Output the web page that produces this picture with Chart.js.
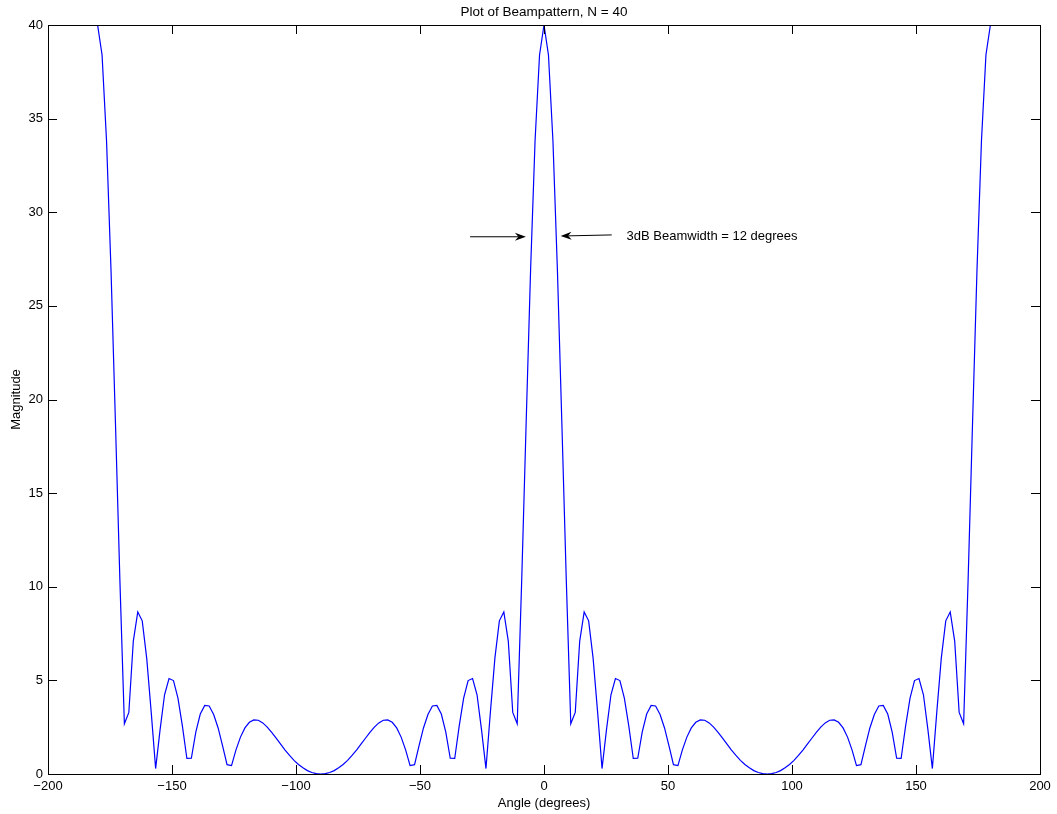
<!DOCTYPE html>
<html>
<head>
<meta charset="utf-8">
<script src="https://cdn.jsdelivr.net/npm/chart.js@4.4.1/dist/chart.umd.min.js"></script>
<style>
  html, body { margin: 0; padding: 0; background: #fff; }
  #wrap { width: 1057px; height: 814px; }
</style>
</head>
<body>
<div id="wrap"><canvas id="beamChart"></canvas></div>
<script>
// angle samples (degrees)
const angles = [
  -180, -178.2, -176.4, -174.6, -172.8, -171, -169.2, -167.4, -165.6, -163.8,
  -162, -160.2, -158.4, -156.6, -154.8, -153, -151.2, -149.4, -147.6, -145.8,
  -144, -142.2, -140.4, -138.6, -136.8, -135, -133.2, -131.4, -129.6, -127.8,
  -126, -124.2, -122.4, -120.6, -118.8, -117, -115.2, -113.4, -111.6, -109.8,
  -108, -106.2, -104.4, -102.6, -100.8, -99, -97.2, -95.4, -93.6, -91.8,
  -90, -88.2, -86.4, -84.6, -82.8, -81, -79.2, -77.4, -75.6, -73.8,
  -72, -70.2, -68.4, -66.6, -64.8, -63, -61.2, -59.4, -57.6, -55.8,
  -54, -52.2, -50.4, -48.6, -46.8, -45, -43.2, -41.4, -39.6, -37.8,
  -36, -34.2, -32.4, -30.6, -28.8, -27, -25.2, -23.4, -21.6, -19.8,
  -18, -16.2, -14.4, -12.6, -10.8, -9, -7.2, -5.4, -3.6, -1.8,
  0,
  1.8, 3.6, 5.4, 7.2, 9, 10.8, 12.6, 14.4, 16.2, 18,
  19.8, 21.6, 23.4, 25.2, 27, 28.8, 30.6, 32.4, 34.2, 36,
  37.8, 39.6, 41.4, 43.2, 45, 46.8, 48.6, 50.4, 52.2, 54,
  55.8, 57.6, 59.4, 61.2, 63, 64.8, 66.6, 68.4, 70.2, 72,
  73.8, 75.6, 77.4, 79.2, 81, 82.8, 84.6, 86.4, 88.2, 90,
  91.8, 93.6, 95.4, 97.2, 99, 100.8, 102.6, 104.4, 106.2, 108,
  109.8, 111.6, 113.4, 115.2, 117, 118.8, 120.6, 122.4, 124.2, 126,
  127.8, 129.6, 131.4, 133.2, 135, 136.8, 138.6, 140.4, 142.2, 144,
  145.8, 147.6, 149.4, 151.2, 153, 154.8, 156.6, 158.4, 160.2, 162,
  163.8, 165.6, 167.4, 169.2, 171, 172.8, 174.6, 176.4, 178.2, 180
];

// beampattern magnitude at each angle
const magnitude = [
  40, 38.40, 33.83, 26.95, 18.74, 10.30, 2.68, 3.29, 7.10, 8.65,
  8.18, 6.19, 3.33, 0.29, 2.37, 4.23, 5.10, 4.99, 4.05, 2.56,
  0.83, 0.84, 2.24, 3.20, 3.66, 3.63, 3.18, 2.46, 1.50, 0.50,
  0.45, 1.29, 1.97, 2.46, 2.76, 2.89, 2.87, 2.73, 2.50, 2.22,
  1.91, 1.59, 1.28, 0.99, 0.73, 0.51, 0.33, 0.18, 0.08, 0.02,
  0,
  0.02, 0.08, 0.18, 0.33, 0.51, 0.73, 0.99, 1.28, 1.59, 1.91,
  2.22, 2.50, 2.73, 2.87, 2.89, 2.76, 2.46, 1.97, 1.29, 0.45,
  0.50, 1.50, 2.46, 3.18, 3.63, 3.66, 3.20, 2.24, 0.84, 0.83,
  2.56, 4.05, 4.99, 5.10, 4.23, 2.37, 0.29, 3.33, 6.19, 8.18,
  8.65, 7.10, 3.29, 2.68, 10.30, 18.74, 26.95, 33.83, 38.40, 40,
  38.40, 33.83, 26.95, 18.74, 10.30, 2.68, 3.29, 7.10, 8.65, 8.18,
  6.19, 3.33, 0.29, 2.37, 4.23, 5.10, 4.99, 4.05, 2.56, 0.83,
  0.84, 2.24, 3.20, 3.66, 3.63, 3.18, 2.46, 1.50, 0.50, 0.45,
  1.29, 1.97, 2.46, 2.76, 2.89, 2.87, 2.73, 2.50, 2.22, 1.91,
  1.59, 1.28, 0.99, 0.73, 0.51, 0.33, 0.18, 0.08, 0.02, 0,
  0.02, 0.08, 0.18, 0.33, 0.51, 0.73, 0.99, 1.28, 1.59, 1.91,
  2.22, 2.50, 2.73, 2.87, 2.89, 2.76, 2.46, 1.97, 1.29, 0.45,
  0.50, 1.50, 2.46, 3.18, 3.63, 3.66, 3.20, 2.24, 0.84, 0.83,
  2.56, 4.05, 4.99, 5.10, 4.23, 2.37, 0.29, 3.33, 6.19, 8.18,
  8.65, 7.10, 3.29, 2.68, 10.30, 18.74, 26.95, 33.83, 38.40, 40
];

// axis ticks
const xTicks = [-200, -150, -100, -50, 0, 50, 100, 150, 200];
const yTicks = [0, 5, 10, 15, 20, 25, 30, 35, 40];

// annotation (data coords)
const arrowLeft = { from: [-29.8, 28.69], to: [-7.3, 28.69] };
const arrowRight = { from: [27.3, 28.79], to: [6.7, 28.73] };
const noteText = "3dB Beamwidth = 12 degrees";
const notePos = [33.3, 28.73];
const titleText = "Plot of Beampattern, N = 40";

const FONT = "'Liberation Sans', Arial, Helvetica, sans-serif";
Chart.defaults.font.family = FONT;
Chart.defaults.color = "#000";

const points = angles.map((a, i) => ({ x: a, y: magnitude[i] }));

// MATLAB-ish box with inward ticks, title + annotation arrows
const boxPlugin = {
  id: "box",
  afterDatasetsDraw(chart) {
    const { ctx, chartArea: ca, scales } = chart;
    const xs = scales.x, ys = scales.y;
    ctx.save();
    ctx.strokeStyle = "#000";
    ctx.lineWidth = 1;
    ctx.strokeRect(Math.round(ca.left) + 0.5, Math.round(ca.top) + 0.5,
      Math.round(ca.right - ca.left), Math.round(ca.bottom - ca.top));
    const tl = 9;
    ctx.beginPath();
    xTicks.forEach((v) => {
      const px = Math.round(xs.getPixelForValue(v)) + 0.5;
      ctx.moveTo(px, ca.bottom); ctx.lineTo(px, ca.bottom - tl);
      ctx.moveTo(px, ca.top); ctx.lineTo(px, ca.top + tl);
    });
    yTicks.forEach((v) => {
      const py = Math.round(ys.getPixelForValue(v)) + 0.5;
      ctx.moveTo(ca.left, py); ctx.lineTo(ca.left + tl, py);
      ctx.moveTo(ca.right, py); ctx.lineTo(ca.right - tl, py);
    });
    ctx.stroke();

    // arrows
    [arrowLeft, arrowRight].forEach((ar) => {
      const x1 = xs.getPixelForValue(ar.from[0]), y1 = ys.getPixelForValue(ar.from[1]);
      const x2 = xs.getPixelForValue(ar.to[0]), y2 = ys.getPixelForValue(ar.to[1]);
      const ang = Math.atan2(y2 - y1, x2 - x1);
      const hl = 11, hw = 4, notch = 7.5;
      ctx.beginPath();
      ctx.moveTo(x1, y1);
      ctx.lineTo(x2 - Math.cos(ang) * notch, y2 - Math.sin(ang) * notch);
      ctx.stroke();
      const bx = x2 - Math.cos(ang) * hl, by = y2 - Math.sin(ang) * hl;
      const nx = -Math.sin(ang), ny = Math.cos(ang);
      ctx.beginPath();
      ctx.moveTo(x2, y2);
      ctx.lineTo(bx + nx * hw, by + ny * hw);
      ctx.lineTo(x2 - Math.cos(ang) * notch, y2 - Math.sin(ang) * notch);
      ctx.lineTo(bx - nx * hw, by - ny * hw);
      ctx.closePath();
      ctx.fillStyle = "#000";
      ctx.fill();
    });

    ctx.font = "13px " + FONT;
    ctx.fillStyle = "#000";
    ctx.textAlign = "left";
    ctx.textBaseline = "middle";
    ctx.fillText(noteText, xs.getPixelForValue(notePos[0]), ys.getPixelForValue(notePos[1]));

    // title centred over the axes
    ctx.font = "13.5px " + FONT;
    ctx.textAlign = "center";
    ctx.fillText(titleText, (ca.left + ca.right) / 2, 12.5);
    ctx.restore();
  }
};

new Chart(document.getElementById("beamChart"), {
  type: "line",
  data: {
    datasets: [{
      data: points,
      borderColor: "#0000ff",
      borderWidth: 1.2,
      pointRadius: 0,
      tension: 0,
      fill: false
    }]
  },
  options: {
    responsive: true,
    maintainAspectRatio: false,
    animation: false,
    events: [],
    layout: { padding: { left: 0, right: 17, top: 25, bottom: 0 } },
    plugins: {
      legend: { display: false },
      tooltip: { enabled: false },
      title: { display: false }
    },
    scales: {
      x: {
        type: "linear",
        min: -200,
        max: 200,
        afterBuildTicks: (s) => { s.ticks = xTicks.map((v) => ({ value: v })); },
        afterFit: (s) => { s.height = 40; },
        ticks: {
          color: "#000",
          font: { size: 13 },
          padding: 5,
          maxRotation: 0,
          callback: (v) => (v < 0 ? "\u2212" + Math.abs(v) : String(v))
        },
        grid: { display: false, drawTicks: false },
        border: { display: false },
        title: {
          display: true,
          text: "Angle (degrees)",
          color: "#000",
          font: { size: 13 },
          padding: { top: 0, bottom: 3.2 }
        }
      },
      y: {
        min: 0,
        max: 40,
        afterBuildTicks: (s) => { s.ticks = yTicks.map((v) => ({ value: v })); },
        afterFit: (s) => { s.width = 48; },
        ticks: { color: "#000", font: { size: 13 }, padding: 5 },
        grid: { display: false, drawTicks: false },
        border: { display: false },
        title: {
          display: true,
          text: "Magnitude",
          color: "#000",
          font: { size: 13 },
          padding: { top: 8.5, bottom: 0 }
        }
      }
    }
  },
  plugins: [boxPlugin]
});
</script>
</body>
</html>
